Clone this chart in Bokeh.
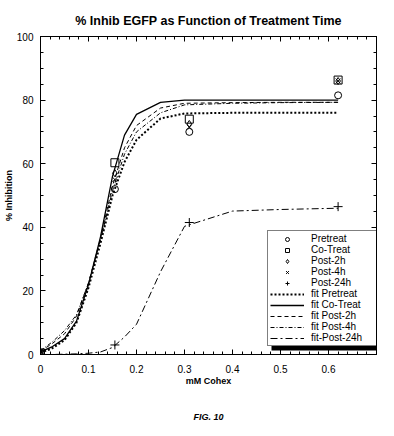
from bokeh.plotting import figure
from bokeh.models import (LinearAxis, Range1d, SingleIntervalTicker, Legend, LegendItem,
                          BoxAnnotation, Title)
from bokeh.embed import file_html
from bokeh.resources import INLINE

# ---------------- data ----------------
dose = [0, 0.155, 0.31, 0.62]
pretreat = [0.5, 52, 70, 81.5]
cotreat = [0.5, 60.3, 74, 86.3]
post2h = [0.5, 57, 72.5, 86]
post4h = [0.5, 55, 71.5, 86]
post24h = [0, 3.0, 41.5, 46.5]

fit_x = [0, 0.025, 0.05, 0.075, 0.1, 0.125, 0.15, 0.175, 0.2, 0.25, 0.3, 0.4, 0.5, 0.62]
fit_pretreat = [0.5, 2, 4.5, 10, 21, 35, 50, 60.5, 67.5, 74.2, 75.8, 76, 76, 76]
fit_cotreat = [0.8, 2.5, 5, 10.5, 22, 37, 56, 69, 75.5, 79.3, 80, 80, 80, 80]
fit_post2h = [1, 3.5, 6.5, 12, 22.5, 36.5, 53, 65, 72, 77.5, 79, 79.2, 79.3, 79.3]
fit_post4h = [1.2, 4, 7.5, 12.5, 22.5, 36, 51.5, 63, 70, 76, 78.5, 79, 79.2, 79.3]
fit_post24h = [0, 0, 0.1, 0.2, 0.4, 0.8, 2.2, 5.5, 9.5, 26, 40.3, 45.1, 45.6, 46]

title_text = "% Inhib EGFP as Function of Treatment Time"
x_label = "mM Cohex"
y_label = "% Inhibition"
caption = "FIG. 10"

FONT = "Liberation Sans"

p = figure(frame_width=336, frame_height=318, x_range=Range1d(0, 0.7), y_range=Range1d(0, 100),
           output_backend="svg", toolbar_location=None,
           min_border_left=36, min_border_right=8, min_border_top=36, min_border_bottom=60)
p.background_fill_color = "white"
p.border_fill_color = "white"
p.outline_line_color = "black"
p.outline_line_width = 1
p.xgrid.visible = False
p.ygrid.visible = False

p.title.text = title_text
p.title.align = "center"
p.title.text_font = FONT
p.title.text_font_size = "12.5px"
p.title.text_font_style = "bold"
p.title.text_color = "black"
p.title.standoff = 17

xt = SingleIntervalTicker(interval=0.1, num_minor_ticks=5)
yt = SingleIntervalTicker(interval=20, num_minor_ticks=4)


def style_axis(ax, labels=True):
    ax.axis_line_color = "black"
    ax.major_tick_line_color = "black"
    ax.minor_tick_line_color = "black"
    ax.major_tick_in = 5
    ax.major_tick_out = 0
    ax.minor_tick_in = 3
    ax.minor_tick_out = 0
    ax.major_label_text_font = FONT
    ax.major_label_text_font_size = "10px"
    ax.major_label_text_color = "black"
    if not labels:
        ax.major_label_text_color = None
        ax.major_label_text_font_size = "1px"
        ax.major_label_standoff = 0


p.xaxis.ticker = xt
p.yaxis.ticker = yt
style_axis(p.xaxis[0])
style_axis(p.yaxis[0])
p.xaxis.major_label_standoff = 10
p.yaxis.major_label_standoff = 7
p.xaxis.axis_label = x_label
p.yaxis.axis_label = y_label
for ax in (p.xaxis[0], p.yaxis[0]):
    ax.axis_label_text_font = FONT
    ax.axis_label_text_font_size = "9px"
    ax.axis_label_text_font_style = "bold"
    ax.axis_label_text_color = "black"
    ax.axis_label_standoff = 0

top = LinearAxis(ticker=xt)
style_axis(top, labels=False)
p.add_layout(top, "above")
right = LinearAxis(ticker=yt)
style_axis(right, labels=False)
p.add_layout(right, "right")

# ---------------- glyphs ----------------
r_pre = p.scatter(dose, pretreat, marker="circle", size=7, fill_color=None, line_color="black")
r_co = p.scatter(dose, cotreat, marker="square", size=8, fill_color=None, line_color="black")
r_p2 = p.scatter(dose, post2h, marker="diamond", size=7, fill_color=None, line_color="black")
r_p4 = p.scatter(dose, post4h, marker="x", size=7, line_color="black")
r_p24 = p.scatter(dose, post24h, marker="cross", size=9, line_color="black")

l_pre = p.line(fit_x, fit_pretreat, line_color="black", line_width=2, line_dash="2 2")
l_co = p.line(fit_x, fit_cotreat, line_color="black", line_width=1.3)
l_p2 = p.line(fit_x, fit_post2h, line_color="black", line_width=1, line_dash="4 3")
l_p4 = p.line(fit_x, fit_post4h, line_color="black", line_width=1, line_dash="4 2 1 2")
l_p24 = p.line(fit_x, fit_post24h, line_color="black", line_width=1, line_dash="7 3 2 3")

# legend geometry (frame pixels): left 227, bottom 8, width ~111, height ~115
shadow = BoxAnnotation(left=231 / 480, right=342 / 480, bottom=4 / 3.18, top=119 / 3.18,
                       fill_color="black", fill_alpha=1, line_color=None)
p.add_layout(shadow)

legend = Legend(items=[
    LegendItem(label="Pretreat", renderers=[r_pre]),
    LegendItem(label="Co-Treat", renderers=[r_co]),
    LegendItem(label="Post-2h", renderers=[r_p2]),
    LegendItem(label="Post-4h", renderers=[r_p4]),
    LegendItem(label="Post-24h", renderers=[r_p24]),
    LegendItem(label="fit Pretreat", renderers=[l_pre]),
    LegendItem(label="fit Co-Treat", renderers=[l_co]),
    LegendItem(label="fit Post-2h", renderers=[l_p2]),
    LegendItem(label="fit Post-4h", renderers=[l_p4]),
    LegendItem(label="fit-Post-24h", renderers=[l_p24]),
], location=(227, 8))
legend.margin = 0
legend.padding = 2
legend.spacing = 0
legend.glyph_width = 34
legend.glyph_height = 10
legend.label_height = 11
legend.label_width = 66
legend.label_standoff = 7
legend.label_text_font = FONT
legend.label_text_font_size = "10px"
legend.label_text_color = "black"
legend.border_line_color = "black"
legend.border_line_width = 1.2
legend.background_fill_color = "white"
legend.background_fill_alpha = 1
p.add_layout(legend)

cap = Title(text=caption, align="center", text_font=FONT, text_font_size="9px",
            text_font_style="bold italic", text_color="black", standoff=42)
p.add_layout(cap, "below")

open("out.html", "w").write(file_html(p, INLINE))
